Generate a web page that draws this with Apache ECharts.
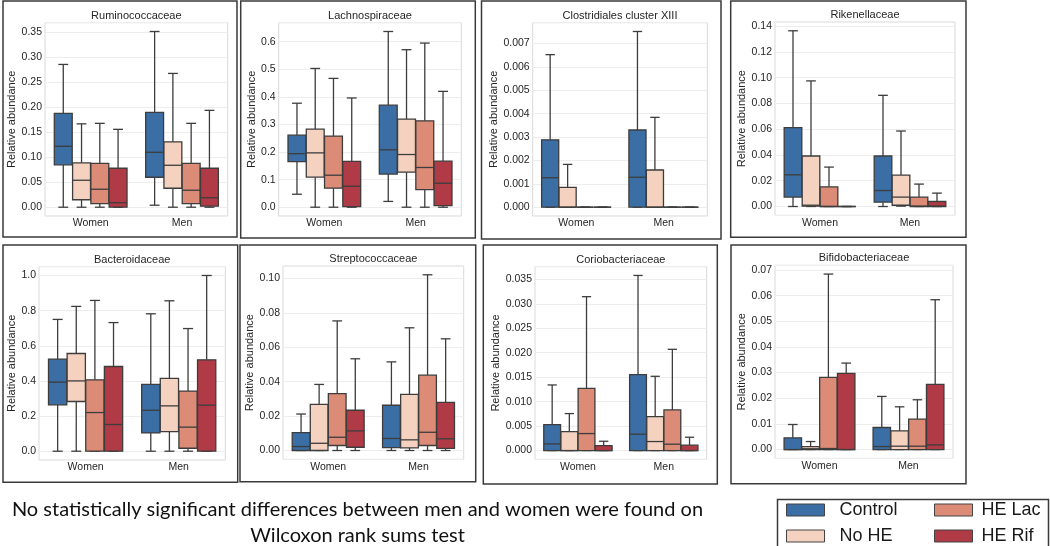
<!DOCTYPE html>
<html>
<head>
<meta charset="utf-8">
<script src="https://cdn.jsdelivr.net/npm/echarts@6/dist/echarts.min.js"></script>
<style>html,body{margin:0;padding:0;background:#fff}#chart{width:1050px;height:546px}</style>
</head>
<body>
<div id="chart"></div>
<script>
// ---------- DATA ----------
const groups = ['Women', 'Men'];
const treatments = ['Control', 'No HE', 'HE Lac', 'HE Rif'];
const titles = ['Ruminococcaceae', 'Lachnospiraceae', 'Clostridiales cluster XIII', 'Rikenellaceae',
                'Bacteroidaceae', 'Streptococcaceae', 'Coriobacteriaceae', 'Bifidobacteriaceae'];
const tickStep = [0.05, 0.1, 0.001, 0.02, 0.2, 0.02, 0.005, 0.01];
const tickDecimals = [2, 1, 3, 2, 1, 2, 3, 2];

// each treatment: [Women, Men], each stat = [min, Q1, median, Q3, max]
const ruminococcaceae = [
  [[0, 0.085, 0.122, 0.188, 0.286], [0.004, 0.060, 0.110, 0.190, 0.352]],
  [[0, 0.015, 0.054, 0.089, 0.167], [0, 0.038, 0.084, 0.131, 0.268]],
  [[0, 0.007, 0.036, 0.088, 0.168], [0, 0.007, 0.034, 0.088, 0.168]],
  [[0, 0, 0.009, 0.078, 0.156], [0, 0.002, 0.019, 0.078, 0.194]]
];
const lachnospiraceae = [
  [[0.047, 0.165, 0.194, 0.261, 0.377], [0.021, 0.120, 0.208, 0.370, 0.637]],
  [[0, 0.109, 0.197, 0.283, 0.503], [0, 0.127, 0.191, 0.319, 0.571]],
  [[0, 0.069, 0.116, 0.258, 0.467], [0, 0.064, 0.144, 0.313, 0.595]],
  [[0, 0.002, 0.076, 0.166, 0.396], [0, 0.006, 0.087, 0.167, 0.420]]
];
const clostridialesXIII = [
  [[0, 0, 0.00126, 0.00288, 0.00652], [0, 0, 0.00128, 0.0033, 0.00751]],
  [[0, 0, 0, 0.00085, 0.00183], [0, 0, 0, 0.00159, 0.00384]],
  [[0, 0, 0, 0, 0], [0, 0, 0, 0, 0]],
  [[0, 0, 0, 0, 0], [0, 0, 0, 0, 0]]
];
const rikenellaceae = [
  [[0, 0.0073, 0.0246, 0.0612, 0.1364], [0, 0.0034, 0.0124, 0.0392, 0.0863]],
  [[0, 0.0003, 0.001, 0.0392, 0.0975], [0.0003, 0.001, 0.0073, 0.0244, 0.0586]],
  [[0, 0, 0, 0.0153, 0.0306], [0, 0, 0.0003, 0.0073, 0.0174]],
  [[0, 0, 0, 0, 0], [0, 0, 0.0003, 0.0039, 0.0104]]
];
const bacteroidaceae = [
  [[0, 0.264, 0.393, 0.524, 0.750], [0, 0.104, 0.233, 0.380, 0.782]],
  [[0, 0.283, 0.400, 0.556, 0.824], [0, 0.112, 0.258, 0.415, 0.856]],
  [[0, 0, 0.220, 0.406, 0.858], [0, 0.017, 0.137, 0.342, 0.698]],
  [[0, 0, 0.152, 0.482, 0.732], [0, 0, 0.262, 0.520, 1.0]]
];
const streptococcaceae = [
  [[0, 0, 0.0023, 0.0104, 0.0212], [0, 0.0017, 0.007, 0.0263, 0.0515]],
  [[0, 0, 0.0042, 0.0268, 0.0384], [0, 0.0015, 0.0062, 0.0326, 0.0713]],
  [[0, 0.0029, 0.0077, 0.033, 0.0753], [0, 0.0029, 0.0106, 0.0438, 0.1021]],
  [[0, 0.0019, 0.0114, 0.0234, 0.0533], [0, 0.0012, 0.0068, 0.028, 0.0649]]
];
const coriobacteriaceae = [
  [[0, 0, 0.00136, 0.00531, 0.01341], [0, 0, 0.00334, 0.01553, 0.0358]],
  [[0, 0, 0, 0.00388, 0.00756], [0, 0, 0.00184, 0.00695, 0.01518]],
  [[0, 0, 0.00347, 0.01273, 0.03146], [0, 0, 0.0013, 0.00831, 0.0207]],
  [[0, 0, 0, 0.00102, 0.0019], [0, 0, 0, 0.00109, 0.00272]]
];
const bifidobacteriaceae = [
  [[0, 0, 0, 0.00455, 0.00976], [0, 0, 0.00117, 0.00859, 0.0207]],
  [[0, 0, 0.0003, 0.00117, 0.00312], [0, 0, 0.0013, 0.00729, 0.01665]],
  [[0, 0, 0.0004, 0.0281, 0.0684], [0, 0, 0.0013, 0.01184, 0.0194]],
  [[0, 0, 0, 0.0297, 0.0337], [0, 0, 0.00182, 0.02537, 0.0584]]
];
const panelData = [ruminococcaceae, lachnospiraceae, clostridialesXIII, rikenellaceae,
                   bacteroidaceae, streptococcaceae, coriobacteriaceae, bifidobacteriaceae];
const note = ['No statistically significant differences between men and women were found on',
              'Wilcoxon rank sums test'];

// ---------- STYLE / LAYOUT ----------
const colors = ['#3a6ea5', '#f4d2bf', '#dc8b77', '#b03a45'];
const edge = '#3d3d3d';
const txt = '#262626';
const FF = 'Liberation Sans';
const layout = [
  {frame: [3, 1, 234, 236],       grid: [45, 22.7, 182.7, 193.3],   nameGap: 22},
  {frame: [240.7, 1, 234.6, 237], grid: [278.7, 22.7, 182.6, 193.3], nameGap: 15},
  {frame: [481.5, 1, 239.5, 238], grid: [532.7, 22.7, 174.6, 193.3], nameGap: 27},
  {frame: [730.7, 1, 235.3, 236.3], grid: [775, 22, 180, 193.3],    nameGap: 22},
  {frame: [3, 245, 234.7, 237.3], grid: [39, 266.7, 186.3, 193.3],   nameGap: 16},
  {frame: [240, 245, 235.7, 236.7], grid: [283, 266, 180.7, 193.3],  nameGap: 20},
  {frame: [483.3, 245, 234, 239], grid: [535, 266.7, 171.7, 192.6],  nameGap: 29},
  {frame: [731, 245, 235, 238.7], grid: [775, 265.3, 178, 193],      nameGap: 21}
];

function makeRender(t) {
  return function (params, api) {
    const cat = api.value(0);
    const v = [1, 2, 3, 4, 5].map(i => api.value(i));
    const bw = api.size([1, 0])[0];
    const c = api.coord([cat, 0])[0] + (t - 1.5) * bw * 0.2;
    const w = bw * 0.2 * 0.98;
    const cap = w * 0.55;
    const y = val => api.coord([cat, val])[1];
    const ln = (x1, y1, x2, y2) => ({type: 'line', shape: {x1, y1, x2, y2}, style: {stroke: edge, lineWidth: 1.3}});
    return {type: 'group', children: [
      ln(c, y(v[3]), c, y(v[4])),
      ln(c, y(v[1]), c, y(v[0])),
      ln(c - cap / 2, y(v[4]), c + cap / 2, y(v[4])),
      ln(c - cap / 2, y(v[0]), c + cap / 2, y(v[0])),
      {type: 'rect', shape: {x: c - w / 2, y: y(v[3]), width: w, height: y(v[1]) - y(v[3])},
       style: {fill: colors[t], stroke: edge, lineWidth: 1.3}},
      ln(c - w / 2, y(v[2]), c + w / 2, y(v[2]))
    ]};
  };
}

const grid = [], xAxis = [], yAxis = [], series = [], title = [], graphic = [];
panelData.forEach((pd, g) => {
  const L = layout[g];
  const [gl, gt, gw, gh] = L.grid;
  grid.push({left: gl, top: gt, width: gw, height: gh, show: true,
             borderColor: '#d9d9d9', borderWidth: 1, backgroundColor: 'transparent'});
  title.push({text: titles[g], left: gl + gw / 2, top: gt - 12.5, textAlign: 'center', padding: 0,
              textStyle: {fontSize: 11, fontWeight: 'normal', color: txt, fontFamily: FF}});
  xAxis.push({type: 'category', gridIndex: g, data: groups,
              axisLine: {show: false}, axisTick: {show: false}, splitLine: {show: false},
              axisLabel: {margin: 2, fontSize: 10.5, color: txt, fontFamily: FF}});
  let maxV = 0;
  pd.forEach(tr => tr.forEach(s => { maxV = Math.max(maxV, ...s); }));
  const pad = maxV * 0.05;
  const step = tickStep[g];
  yAxis.push({type: 'value', gridIndex: g, min: -pad, max: maxV + pad,
              minInterval: step, maxInterval: step,
              name: 'Relative abundance', nameLocation: 'middle', nameGap: L.nameGap,
              nameTextStyle: {fontSize: 11, color: txt, fontFamily: FF},
              axisLine: {show: false}, axisTick: {show: false},
              splitLine: {lineStyle: {color: '#ededed', width: 1}},
              axisLabel: {margin: 3, fontSize: 10.5, color: txt, fontFamily: FF,
                formatter: v => (v >= -1e-12 && Math.abs(v / step - Math.round(v / step)) < 1e-6) ? v.toFixed(tickDecimals[g]) : ''}});
  pd.forEach((tr, t) => {
    series.push({type: 'custom', name: treatments[t], xAxisIndex: g, yAxisIndex: g,
                 itemStyle: {color: colors[t]}, encode: {x: 0, y: [1, 2, 3, 4, 5]},
                 data: groups.map((grp, i) => [grp].concat(tr[i])),
                 renderItem: makeRender(t), z: 3});
  });
  graphic.push({type: 'rect', silent: true, z: 10,
                shape: {x: L.frame[0], y: L.frame[1], width: L.frame[2], height: L.frame[3]},
                style: {fill: 'none', stroke: '#3a3a3a', lineWidth: 1.5}});
});

graphic.push({type: 'rect', silent: true, shape: {x: 777.5, y: 499.5, width: 271, height: 50},
              style: {fill: 'none', stroke: '#3a3a3a', lineWidth: 1.5}});
note.forEach((line, i) => {
  graphic.push({type: 'text', silent: true, x: 357.5, y: 510 + i * 26,
                style: {text: line, fill: '#111', font: '20px Lato', textAlign: 'center', textVerticalAlign: 'middle'}});
});

const legendItem = t => ({name: treatments[t], icon: 'rect',
  itemStyle: {color: colors[t], borderColor: '#444', borderWidth: 1}});
const legendBase = {orient: 'vertical', top: 501, itemWidth: 38, itemHeight: 12, itemGap: 8,
  selectedMode: false, padding: 0};
const legendText = p => ({fontSize: 18, lineHeight: 18, fontFamily: FF, color: '#1a1a1a', padding: [0, 0, 0, p]});
const legend = [
  Object.assign({}, legendBase, {left: 786, textStyle: legendText(10), data: [legendItem(0), legendItem(1)]}),
  Object.assign({}, legendBase, {left: 934, textStyle: legendText(4), data: [legendItem(2), legendItem(3)]})
];

const chart = echarts.init(document.getElementById('chart'), null, {renderer: 'canvas'});
chart.setOption({animation: false, backgroundColor: '#fff', title, grid, xAxis, yAxis, series, legend, graphic});
</script>
</body>
</html>
